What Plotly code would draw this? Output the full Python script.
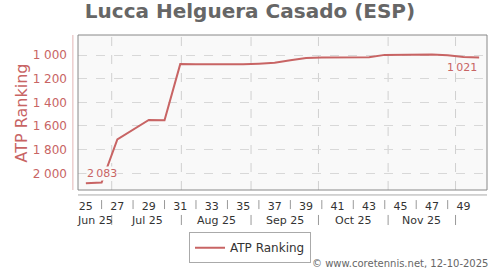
import datetime as dt
import plotly.graph_objects as go

# ---- data ----
weeks = list(range(25, 51))
ranking = [2083, 2078, 1713, 1630, 1549, 1552, 1077, 1078, 1080, 1081, 1079, 1073, 1065,
           1045, 1025, 1022, 1021, 1021, 1019, 999, 999, 998, 996, 1003, 1017, 1021]
week_tick_vals = list(range(25, 50, 2))
week_tick_text = [str(w) for w in week_tick_vals]
week_sep_vals = list(range(26, 49, 2))
month_starts = ["2025-07-01", "2025-08-01", "2025-09-01", "2025-10-01", "2025-11-01", "2025-12-01"]
month_labels = ["Jun 25", "Jul 25", "Aug 25", "Sep 25", "Oct 25", "Nov 25"]
y_ticks = [1000, 1200, 1400, 1600, 1800, 2000]

RED = "#c86464"
FONT = "DejaVu Sans"
x_min, x_max = 24.5, 50.5
week25_monday = dt.date(2025, 6, 16)


def week_pos(d):
    d = dt.date.fromisoformat(d)
    return 25 + (d - week25_monday).days / 7 - 0.5


def to_paper(x):
    return (x - x_min) / (x_max - x_min)


bounds = [week_pos(d) for d in month_starts]
seg_edges = [x_min] + bounds
month_centers = [(seg_edges[i] + seg_edges[i + 1]) / 2 for i in range(len(month_labels))]


def fmt(v):
    return f"{v:,}".replace(",", "\u2009")


fig = go.Figure()
fig.add_trace(go.Scatter(x=weeks, y=ranking, mode="lines", name="ATP Ranking",
                         line=dict(color=RED, width=2), hoverinfo="x+y"))

shapes = []
for b in bounds:
    p = to_paper(b)
    shapes.append(dict(type="line", xref="paper", yref="paper", x0=p, x1=p, y0=0, y1=1,
                       line=dict(color="#d0d0d0", width=1, dash="dash"), layer="below"))
    shapes.append(dict(type="line", xref="paper", yref="paper", x0=p, x1=p, y0=-0.161, y1=-0.226,
                       line=dict(color="#999", width=1)))
for s in week_sep_vals:
    p = to_paper(s)
    shapes.append(dict(type="line", xref="paper", yref="paper", x0=p, x1=p, y0=-0.065, y1=-0.123,
                       line=dict(color="#999", width=1)))
shapes.append(dict(type="rect", xref="paper", yref="paper", x0=0, x1=1, y0=0, y1=1,
                   line=dict(color="#888", width=1)))
shapes.append(dict(type="line", xref="paper", yref="paper", x0=0, x1=1, y0=-0.032, y1=-0.032,
                   line=dict(color="#aaa", width=1)))
shapes.append(dict(type="line", xref="paper", yref="paper", x0=-0.0125, x1=-0.0125, y0=0, y1=1,
                   line=dict(color="#e2b4b4", width=1)))

annotations = []
for c, lab in zip(month_centers, month_labels):
    annotations.append(dict(x=c, y=-0.197, xref="x", yref="paper", text=lab, showarrow=False,
                            font=dict(family=FONT, size=11, color="#333"),
                            xanchor="center", yanchor="middle"))
annotations.append(dict(x=weeks[0], y=ranking[0], xref="x", yref="y", text=fmt(ranking[0]),
                        showarrow=False, xanchor="left", yanchor="bottom", yshift=2,
                        bgcolor="#f9f9f9", borderpad=0,
                        font=dict(family=FONT, size=11, color=RED)))
annotations.append(dict(x=weeks[-1], y=ranking[-1], xref="x", yref="y", text=fmt(ranking[-1]),
                        showarrow=False, xanchor="right", yanchor="top", yshift=-2,
                        font=dict(family=FONT, size=11, color=RED)))
annotations.append(dict(x=1.007, y=-0.471, xref="paper", yref="paper",
                        text="\u00a9 www.coretennis.net, 12-10-2025", showarrow=False,
                        xanchor="right", yanchor="middle",
                        font=dict(family=FONT, size=10, color="#666")))
annotations.append(dict(x=-0.137, y=0.5, xref="paper", yref="paper", text="ATP Ranking",
                        textangle=-90, showarrow=False, xanchor="center", yanchor="middle",
                        font=dict(family=FONT, size=16, color=RED)))

fig.update_layout(
    width=500, height=270,
    margin=dict(l=78, r=13, t=35, b=80),
    paper_bgcolor="white", plot_bgcolor="#f9f9f9",
    separators=". ",
    font=dict(family=FONT),
    title=dict(text="<b>Lucca Helguera Casado (ESP)</b>", x=0.5, xanchor="center",
               y=0.985, yanchor="top", font=dict(family=FONT, size=20, color="#666")),
    xaxis=dict(range=[x_min, x_max], tickvals=week_tick_vals, ticktext=week_tick_text,
               showgrid=False, zeroline=False, ticks="", ticklabelstandoff=8,
               automargin=False,
               tickfont=dict(family=FONT, size=11, color="#333"), fixedrange=True),
    yaxis=dict(range=[2141, 831], tickvals=y_ticks, tickformat=",d",
               showgrid=True, gridcolor="#d8d8d8", griddash="dash", zeroline=False,
               ticks="", ticklabelstandoff=10, automargin=False,
               tickfont=dict(family=FONT, size=12, color=RED)),
    legend=dict(orientation="h", x=0.5, xref="container", xanchor="center",
                y=0.14, yref="container", yanchor="top", itemwidth=30,
                bordercolor="#aaa", borderwidth=1, bgcolor="white",
                font=dict(family=FONT, size=12, color="#333")),
    showlegend=True,
    shapes=shapes, annotations=annotations,
)

fig.write_html("out.html")
